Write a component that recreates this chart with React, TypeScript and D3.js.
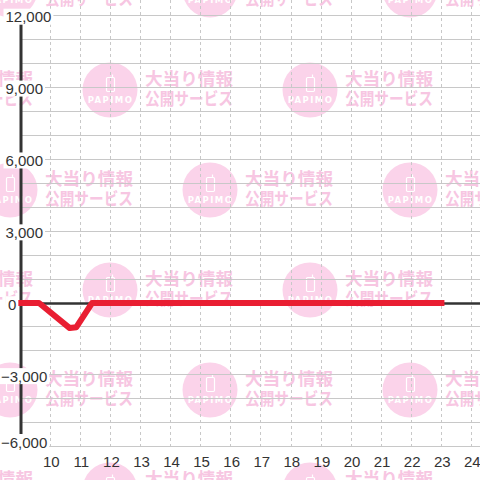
import React, { useEffect, useRef } from 'react';
import * as d3 from 'd3';

const hours = [9, 9.62, 10.64, 10.86, 11.38, 23];
const balance = [0, 0, -1045, -1010, 0, 0];
const xTicks = [10, 11, 12, 13, 14, 15, 16, 17, 18, 19, 20, 21, 22, 23, 24];
const yTicks = [-6000, -3000, 0, 3000, 6000, 9000, 12000];
const yGrid = d3.range(-6000, 12001, 1000);
const wmLine1 = '大当り情報';
const wmLine2 = '公開サービス';
const wmBrand = 'PAPIMO';

const W = 480;
const H = 480;

export default function App() {
  const ref = useRef<SVGSVGElement | null>(null);

  useEffect(() => {
    const svg = d3.select(ref.current);
    svg.selectAll('*').remove();

    const x = d3.scaleLinear().domain([9, 24]).range([20.4, 471.5]);
    const y = d3.scaleLinear().domain([-6000, 12000]).range([446.8, 15.5]);
    const axisX = 21;
    const crisp = (v: number) => Math.round(v - 0.5) + 0.5;

    svg.append('rect').attr('width', W).attr('height', H).attr('fill', '#fff');

    // watermark tiles (under the grid)
    const wm = svg.append('g');
    const centers: [number, number][] = [];
    for (let r = 0; r < 6; r++) {
      const cy = -10 + r * 100;
      const off = r % 2 === 0 ? 10 : 110;
      for (let cx = off - 200; cx < W + 100; cx += 200) centers.push([cx, cy]);
    }
    centers.forEach(([cx, cy]) => {
      const g = wm.append('g').attr('transform', `translate(${cx},${cy})`);
      g.append('circle').attr('r', 27.5).attr('fill', '#fbd3ea');
      g.append('rect').attr('x', -3.5).attr('y', -12.5).attr('width', 8).attr('height', 14)
        .attr('rx', 1.2).attr('fill', 'none').attr('stroke', '#fff').attr('stroke-width', 1.2);
      g.append('line').attr('x1', 2.5).attr('x2', 2.5).attr('y1', -15.5).attr('y2', -12.5)
        .attr('stroke', '#fff').attr('stroke-width', 1.2);
      g.append('text').attr('x', 0.5).attr('y', 12.7).attr('text-anchor', 'middle')
        .attr('font-family', 'DejaVu Sans, sans-serif').attr('font-size', 8.5)
        .attr('font-weight', 700).attr('letter-spacing', 1.4).attr('fill', '#fff')
        .text(wmBrand);
      g.append('text').attr('x', 35).attr('y', -5)
        .attr('font-family', '"Noto Sans CJK JP", sans-serif').attr('font-size', 17.5)
        .attr('font-weight', 700).attr('fill', '#f7c6e2')
        .attr('textLength', 88).attr('lengthAdjust', 'spacingAndGlyphs')
        .text(wmLine1);
      g.append('text').attr('x', 35).attr('y', 14.5)
        .attr('font-family', '"Noto Sans CJK JP", sans-serif').attr('font-size', 17.5)
        .attr('font-weight', 700).attr('fill', '#f7c6e2')
        .attr('textLength', 88).attr('lengthAdjust', 'spacingAndGlyphs')
        .text(wmLine2);
    });

    // horizontal grid
    svg.append('g').selectAll('line').data(yGrid).join('line')
      .attr('x1', axisX).attr('x2', W)
      .attr('y1', (d) => crisp(y(d))).attr('y2', (d) => crisp(y(d)))
      .attr('stroke', '#c8c8c8').attr('stroke-width', 1);

    // vertical dashed grid
    svg.append('g').selectAll('line').data(xTicks).join('line')
      .attr('x1', (d) => crisp(x(d))).attr('x2', (d) => crisp(x(d)))
      .attr('y1', 0).attr('y2', y(-6000))
      .attr('stroke', '#c8c8c8').attr('stroke-width', 1)
      .attr('stroke-dasharray', '3,3');

    // y axis line
    svg.append('line').attr('x1', axisX).attr('x2', axisX)
      .attr('y1', y(12000)).attr('y2', y(-6000))
      .attr('stroke', '#333').attr('stroke-width', 3);

    // zero line
    svg.append('line').attr('x1', axisX).attr('x2', W)
      .attr('y1', y(0) + 0.5).attr('y2', y(0) + 0.5)
      .attr('stroke', '#333').attr('stroke-width', 2.5);

    // data line
    const pts = hours.map((h, i) => [h, balance[i]] as [number, number]);
    const line = d3.line<[number, number]>().x((d) => x(d[0])).y((d) => y(d[1]));
    svg.append('path').attr('d', line(pts) || '')
      .attr('fill', 'none').attr('stroke', '#e91e32').attr('stroke-width', 6)
      .attr('stroke-linejoin', 'round').attr('stroke-linecap', 'square');

    // y labels with white background
    const fmt = d3.format(',');
    const yl = svg.append('g');
    yTicks.forEach((v) => {
      const cy = Math.min(y(v) + 1.2, 442);
      const lx = v === 0 ? 8 : v < 0 ? 1 : 5.5;
      const g = yl.append('g');
      const bg = g.append('rect').attr('fill', '#fff');
      const t = g.append('text').attr('x', lx).attr('y', cy)
        .attr('dominant-baseline', 'central')
        .attr('font-family', '"Liberation Sans", Arial, sans-serif').attr('font-size', 15)
        .attr('fill', '#333').text(fmt(v));
      const bb = (t.node() as SVGTextElement).getBBox();
      bg.attr('x', bb.x - 2).attr('y', cy - 8).attr('width', bb.width + 4).attr('height', 16);
    });

    // x labels
    svg.append('g').selectAll('text').data(xTicks).join('text')
      .attr('x', (d) => x(d) + 0.8).attr('y', 466.5).attr('text-anchor', 'middle')
      .attr('font-family', '"Liberation Sans", Arial, sans-serif').attr('font-size', 15)
      .attr('fill', '#333').text((d) => String(d));
  }, []);

  return (
    <svg ref={ref} width={W} height={H}
      style={{ position: 'fixed', left: 0, top: 0, display: 'block' }} />
  );
}
